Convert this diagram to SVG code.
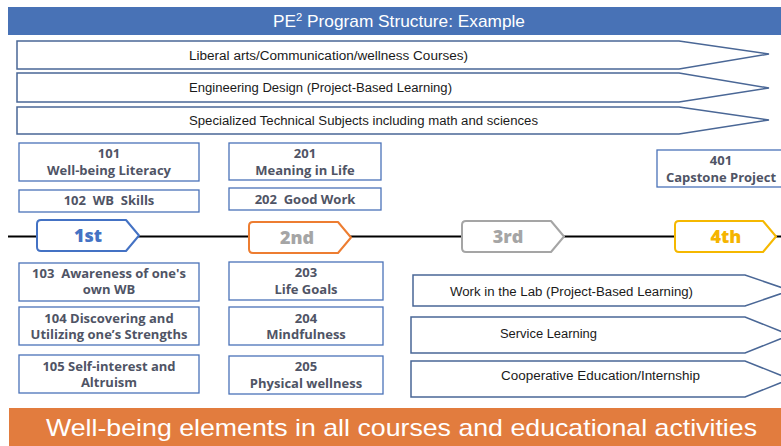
<svg xmlns="http://www.w3.org/2000/svg" width="781" height="446" viewBox="0 0 781 446">
  <style>
    .banner-text { font-family: "Liberation Sans", Arial, sans-serif; fill: #ffffff; }
    .band { fill: #ffffff; stroke: #4a6796; stroke-width: 1.5; }
    .band-text { font-family: "Liberation Sans", Arial, sans-serif; font-size: 12px; fill: #1a1a1a; }
    .course { fill: #ffffff; stroke: #4a72b8; stroke-width: 1.3; }
    .course-text { font-family: "Open Sans", Lato, sans-serif; font-weight: 700; font-size: 13px; fill: #4f5465; text-anchor: middle; white-space: pre; }
    .tag { fill: #ffffff; stroke-width: 2; stroke-linejoin: round; }
    .tag-text { font-family: "Open Sans", Lato, sans-serif; font-weight: 800; font-size: 18px; text-anchor: middle; }
  </style>

  <!-- header banner -->
  <g id="title">
    <rect x="8" y="7" width="773" height="28" fill="#4872b6"/>
    <text class="banner-text" x="273" y="26.5" font-size="17" textLength="252" lengthAdjust="spacingAndGlyphs">PE<tspan font-size="11" dy="-6">2</tspan><tspan dy="6"> Program Structure: Example</tspan></text>
  </g>

  <!-- program-wide bands -->
  <g id="band-liberal">
    <path class="band" d="M17,41 H679 L769,54 L679,69 H17 Z"/>
    <text class="band-text" x="189" y="60" textLength="279" lengthAdjust="spacingAndGlyphs">Liberal arts/Communication/wellness Courses)</text>
  </g>
  <g id="band-design">
    <path class="band" d="M17,73 H679 L769,88 L679,102 H17 Z"/>
    <text class="band-text" x="189" y="92" textLength="263" lengthAdjust="spacingAndGlyphs">Engineering Design (Project-Based Learning)</text>
  </g>
  <g id="band-technical">
    <path class="band" d="M17,107 H679 L769,120 L679,134 H17 Z"/>
    <text class="band-text" x="189" y="125" textLength="349" lengthAdjust="spacingAndGlyphs">Specialized Technical Subjects including math and sciences</text>
  </g>

  <!-- timeline -->
  <g id="connectors">
    <line x1="8" y1="236.5" x2="781" y2="236.5" stroke="#000000" stroke-width="2"/>
  </g>

  <!-- year markers -->
  <g id="year-1">
    <path class="tag" stroke="#4472c4" d="M41,220 H126 L139,235.5 L126,251 H41 Q37,251 37,247 V224 Q37,220 41,220 Z"/>
    <text class="tag-text" x="88" y="242" fill="#4472c4">1st</text>
  </g>
  <g id="year-2">
    <path class="tag" stroke="#ed7d31" d="M253,222 H338 L351,237.5 L338,253 H253 Q249,253 249,249 V226 Q249,222 253,222 Z"/>
    <text class="tag-text" x="297" y="244" fill="#a5a5a5">2nd</text>
  </g>
  <g id="year-3">
    <path class="tag" stroke="#a5a5a5" d="M466,221 H551 L564,236.5 L551,252 H466 Q462,252 462,248 V225 Q462,221 466,221 Z"/>
    <text class="tag-text" x="508" y="243" fill="#a5a5a5">3rd</text>
  </g>
  <g id="year-4">
    <path class="tag" stroke="#f5b800" d="M679,221 H763 L776,236.5 L763,252 H679 Q675,252 675,248 V225 Q675,221 679,221 Z"/>
    <text class="tag-text" x="726" y="243" fill="#f5b400">4th</text>
  </g>

  <!-- first-year courses -->
  <g id="c101">
    <rect class="course" x="19" y="143" width="180" height="38"/>
    <text class="course-text" x="109" y="157.5">101</text>
    <text class="course-text" x="109" y="174.5">Well-being Literacy</text>
  </g>
  <g id="c102">
    <rect class="course" x="19" y="190" width="180" height="22"/>
    <text class="course-text" x="109" y="204.5">102  WB  Skills</text>
  </g>
  <g id="c103">
    <rect class="course" x="19" y="263" width="180" height="38"/>
    <text class="course-text" x="109" y="277.5">103  Awareness of one's</text>
    <text class="course-text" x="109" y="293.5">own WB</text>
  </g>
  <g id="c104">
    <rect class="course" x="19" y="307" width="180" height="38"/>
    <text class="course-text" x="109" y="322.5">104 Discovering and</text>
    <text class="course-text" x="109" y="338.5">Utilizing one’s Strengths</text>
  </g>
  <g id="c105">
    <rect class="course" x="19" y="355" width="180" height="38"/>
    <text class="course-text" x="109" y="370.5">105 Self-interest and</text>
    <text class="course-text" x="109" y="386.5">Altruism</text>
  </g>

  <!-- second-year courses -->
  <g id="c201">
    <rect class="course" x="229" y="143" width="152" height="37"/>
    <text class="course-text" x="305" y="157.5">201</text>
    <text class="course-text" x="305" y="174.5">Meaning in Life</text>
  </g>
  <g id="c202">
    <rect class="course" x="229" y="188" width="152" height="22"/>
    <text class="course-text" x="305" y="203.5">202  Good Work</text>
  </g>
  <g id="c203">
    <rect class="course" x="229" y="262" width="154" height="38"/>
    <text class="course-text" x="306" y="276.5">203</text>
    <text class="course-text" x="306" y="293.5">Life Goals</text>
  </g>
  <g id="c204">
    <rect class="course" x="229" y="307" width="154" height="38"/>
    <text class="course-text" x="306" y="322.5">204</text>
    <text class="course-text" x="306" y="338.5">Mindfulness</text>
  </g>
  <g id="c205">
    <rect class="course" x="229" y="356" width="154" height="38"/>
    <text class="course-text" x="306" y="370.5">205</text>
    <text class="course-text" x="306" y="387.5">Physical wellness</text>
  </g>

  <!-- fourth-year course -->
  <g id="c401">
    <rect class="course" x="657" y="150" width="140" height="37"/>
    <text class="course-text" x="721" y="164.5">401</text>
    <text class="course-text" x="721" y="181.5">Capstone Project</text>
  </g>

  <!-- experiential learning bands -->
  <g id="band-lab">
    <path class="band" d="M413,275 H745 L790,290.5 L745,306 H413 Z"/>
    <text class="band-text" x="450" y="296" textLength="243" lengthAdjust="spacingAndGlyphs">Work in the Lab (Project-Based Learning)</text>
  </g>
  <g id="band-service">
    <path class="band" d="M411,317 H745 L790,335 L745,353 H411 Z"/>
    <text class="band-text" x="500" y="338" textLength="97" lengthAdjust="spacingAndGlyphs">Service Learning</text>
  </g>
  <g id="band-coop">
    <path class="band" d="M411,361 H745 L790,379 L745,397 H411 Z"/>
    <text class="band-text" x="501" y="380" textLength="199" lengthAdjust="spacingAndGlyphs">Cooperative Education/Internship</text>
  </g>

  <!-- footer banner -->
  <g id="footer">
    <rect x="9" y="408" width="772" height="38" fill="#e27c3e"/>
    <text class="banner-text" x="46" y="436" font-size="24" textLength="711" lengthAdjust="spacingAndGlyphs">Well-being elements in all courses and educational activities</text>
  </g>
</svg>
